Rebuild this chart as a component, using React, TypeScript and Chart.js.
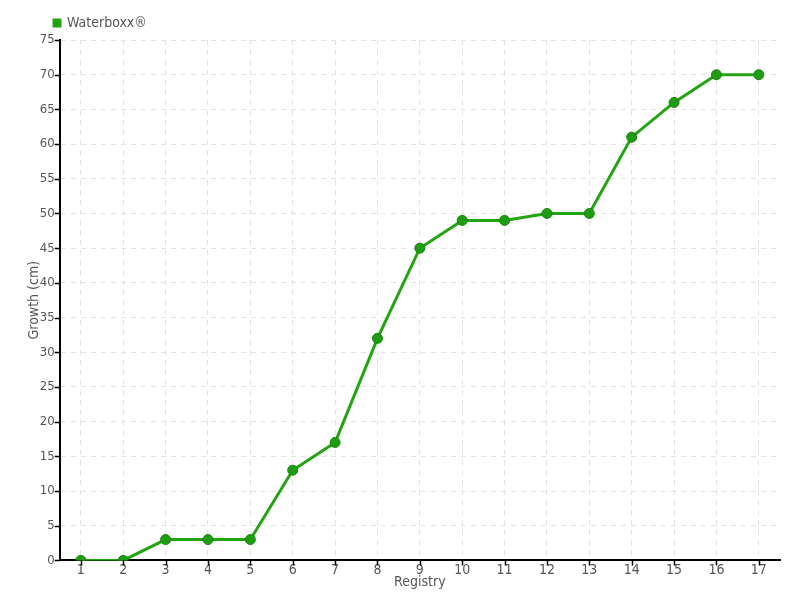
import React, { useEffect, useRef } from "react";
import { Chart, registerables } from "chart.js";

Chart.register(...registerables);

const categories = ["1","2","3","4","5","6","7","8","9","10","11","12","13","14","15","16","17"];
const growth = [0, 0, 3, 3, 3, 13, 17, 32, 45, 49, 49, 50, 50, 61, 66, 70, 70];
const seriesName = "Waterboxx®";
const yTitle = "Growth (cm)";
const xTitle = "Registry";

const FONT = "'Liberation Sans Narrow', 'DejaVu Sans Condensed', sans-serif";
const TEXT = "#555";

const tickMarks = {
  id: "tickMarks",
  afterLayout(chart: any) {
    if (chart.legend) chart.legend.left += 16;
  },
  afterDatasetsDraw(chart: any) {
    const ctx = chart.ctx;
    const xs = chart.scales.x;
    const ys = chart.scales.y;
    ctx.save();
    ctx.strokeStyle = "#000";
    ctx.lineWidth = 1.5;
    ctx.setLineDash([]);
    ctx.beginPath();
    xs.ticks.forEach((_: any, i: number) => {
      const px = Math.round(xs.getPixelForTick(i)) + 0.5;
      ctx.moveTo(px, xs.top);
      ctx.lineTo(px, xs.top + 5);
    });
    ys.ticks.forEach((_: any, i: number) => {
      const py = Math.round(ys.getPixelForTick(i)) + 0.5;
      ctx.moveTo(ys.right - 5, py);
      ctx.lineTo(ys.right, py);
    });
    ctx.stroke();
    ctx.restore();
  },
};

export default function App() {
  const ref = useRef<HTMLCanvasElement | null>(null);
  useEffect(() => {
    if (!ref.current) return;
    const chart = new Chart(ref.current, {
      type: "line",
      data: {
        labels: categories,
        datasets: [
          {
            label: seriesName,
            data: growth,
            borderColor: "#22a511",
            backgroundColor: "#1f9c11",
            borderWidth: 3,
            pointRadius: 5,
            pointHoverRadius: 5,
            pointBackgroundColor: "#1f9c11",
            pointBorderColor: "#17850c",
            pointBorderWidth: 1,
            tension: 0,
          },
        ],
      },
      plugins: [tickMarks],
      options: {
        animation: false,
        responsive: true,
        maintainAspectRatio: false,
        layout: { padding: { top: 4, right: 20, left: 26, bottom: 9 } },
        plugins: {
          legend: {
            align: "start",
            labels: {
              boxWidth: 6,
              boxHeight: 6,
              color: TEXT,
              font: { family: FONT, size: 14 },
              padding: 12,
            },
          },
          tooltip: { enabled: false },
        },
        scales: {
          x: {
            offset: true,
            grid: {
              offset: false,
              color: "#e3e3e3",
              drawTicks: false,
            },
            border: { color: "#000", width: 2, dash: [5, 5] },
            ticks: { color: TEXT, font: { family: FONT, size: 14 }, padding: 2 },
            title: {
              display: true,
              text: xTitle,
              color: TEXT,
              font: { family: FONT, size: 14 },
              padding: { top: -7, bottom: 0 },
            },
          },
          y: {
            min: 0,
            max: 75,
            ticks: { stepSize: 5, color: TEXT, font: { family: FONT, size: 13 }, padding: 5 },
            grid: {
              color: "#e3e3e3",
              drawTicks: false,
            },
            border: { color: "#000", width: 2, dash: [5, 5] },
            title: {
              display: true,
              text: yTitle,
              color: TEXT,
              font: { family: FONT, size: 14 },
              padding: { top: 0, bottom: -8 },
            },
          },
        },
      },
    });
    return () => chart.destroy();
  }, []);
  return (
    <div style={{ position: "fixed", left: 0, top: 0, width: 800, height: 600 }}>
      <canvas ref={ref} />
    </div>
  );
}
